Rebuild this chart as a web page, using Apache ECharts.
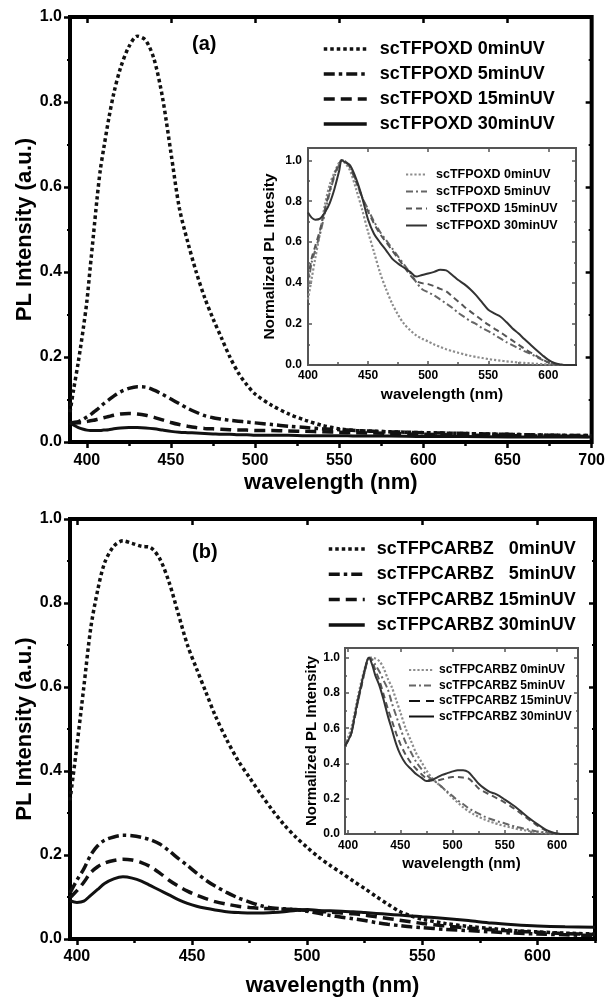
<!DOCTYPE html>
<html><head><meta charset="utf-8">
<script src="https://cdn.jsdelivr.net/npm/echarts@6/dist/echarts.min.js"></script>
<style>html,body{margin:0;padding:0;background:#fff}#c{width:608px;height:998px}</style>
</head><body><div id="c"></div><script>
// ---------- Panel (a) main: scTFPOXD PL intensity ----------
const wlA = [390,392,395,398,400,402,404,406,408,410,413,416,420,425,430,435,440,445,450,455,460,465,470,475,480,485,490,495,500,510,520,530,540,550,560,580,600,625,650,675,700];
const a0  = [0.07,0.12,0.19,0.27,0.33,0.41,0.49,0.57,0.64,0.69,0.76,0.82,0.88,0.93,0.955,0.945,0.90,0.81,0.68,0.55,0.47,0.40,0.34,0.29,0.245,0.20,0.163,0.135,0.113,0.086,0.066,0.051,0.039,0.031,0.027,0.024,0.022,0.02,0.018,0.016,0.015];
const a5  = [0.045,0.046,0.048,0.054,0.059,0.064,0.07,0.076,0.083,0.09,0.099,0.108,0.118,0.126,0.13,0.129,0.122,0.112,0.101,0.09,0.079,0.07,0.062,0.057,0.054,0.051,0.049,0.047,0.045,0.041,0.037,0.034,0.031,0.029,0.027,0.024,0.022,0.02,0.018,0.016,0.015];
const a15 = [0.045,0.044,0.045,0.047,0.048,0.05,0.051,0.053,0.055,0.057,0.06,0.063,0.066,0.067,0.066,0.063,0.058,0.052,0.046,0.041,0.037,0.034,0.032,0.031,0.03,0.029,0.028,0.028,0.027,0.027,0.026,0.025,0.024,0.023,0.022,0.02,0.018,0.016,0.015,0.014,0.013];
const a30 = [0.045,0.04,0.034,0.03,0.028,0.027,0.027,0.027,0.027,0.028,0.029,0.031,0.033,0.034,0.034,0.033,0.031,0.028,0.025,0.023,0.022,0.021,0.02,0.019,0.018,0.018,0.017,0.017,0.016,0.016,0.016,0.015,0.015,0.015,0.014,0.014,0.013,0.013,0.012,0.012,0.012];
// ---------- Panel (a) inset: normalized ----------
const wlAi = [400,403,406,410,414,418,422,426,428,431,435,440,445,450,455,460,465,470,475,480,485,490,495,500,505,510,515,520,525,530,535,540,545,550,555,560,565,570,575,580,585,590,595,600,605,610,615,620,624];
const ai0  = [0.32,0.42,0.52,0.645,0.78,0.88,0.94,0.99,1.0,0.985,0.95,0.86,0.76,0.65,0.55,0.45,0.37,0.3,0.245,0.2,0.17,0.145,0.128,0.115,0.1,0.088,0.077,0.068,0.06,0.052,0.045,0.039,0.034,0.029,0.025,0.021,0.018,0.015,0.012,0.01,0.008,0.006,0.004,0.003,0.002,0.001,0,0,0];
const ai5  = [0.38,0.5,0.56,0.64,0.74,0.84,0.92,0.98,1.0,0.995,0.97,0.9,0.82,0.76,0.7,0.65,0.61,0.57,0.53,0.49,0.45,0.405,0.37,0.355,0.34,0.32,0.3,0.28,0.255,0.235,0.215,0.2,0.18,0.165,0.148,0.13,0.112,0.097,0.082,0.068,0.055,0.04,0.025,0.012,0.004,0.001,0,0,0];
const ai15 = [0.42,0.52,0.58,0.66,0.76,0.85,0.93,0.985,1.0,0.995,0.965,0.895,0.82,0.75,0.69,0.64,0.6,0.56,0.52,0.48,0.44,0.41,0.4,0.395,0.385,0.372,0.36,0.335,0.31,0.285,0.262,0.24,0.218,0.197,0.178,0.16,0.14,0.12,0.1,0.08,0.062,0.045,0.028,0.013,0.005,0.001,0,0,0];
const ai30 = [0.745,0.72,0.71,0.715,0.745,0.79,0.86,0.95,1.0,0.99,0.975,0.91,0.82,0.71,0.64,0.598,0.56,0.52,0.495,0.475,0.455,0.432,0.44,0.447,0.455,0.465,0.462,0.44,0.415,0.395,0.37,0.34,0.305,0.27,0.252,0.237,0.21,0.18,0.155,0.127,0.1,0.073,0.048,0.025,0.01,0.003,0,0,0];
// ---------- Panel (b) main: scTFPCARBZ PL intensity ----------
const wlB = [397,400,403,406,409,412,416,420,424,428,432,436,440,444,448,452,456,460,465,470,475,480,485,490,495,500,505,510,515,520,525,530,535,540,545,550,560,570,580,590,600,612,625];
const b0  = [0.33,0.46,0.60,0.74,0.83,0.895,0.935,0.948,0.942,0.935,0.932,0.905,0.85,0.775,0.70,0.643,0.588,0.533,0.475,0.425,0.384,0.344,0.306,0.272,0.243,0.218,0.195,0.175,0.157,0.138,0.12,0.101,0.083,0.066,0.055,0.047,0.037,0.03,0.025,0.02,0.017,0.014,0.012];
const b5  = [0.11,0.14,0.167,0.2,0.222,0.235,0.243,0.247,0.246,0.242,0.236,0.226,0.21,0.192,0.175,0.157,0.14,0.126,0.111,0.098,0.088,0.079,0.074,0.072,0.07,0.066,0.061,0.056,0.052,0.048,0.044,0.039,0.035,0.032,0.029,0.027,0.023,0.02,0.017,0.014,0.012,0.01,0.008];
const b15 = [0.098,0.115,0.135,0.158,0.172,0.181,0.187,0.19,0.188,0.182,0.172,0.157,0.14,0.126,0.114,0.104,0.096,0.089,0.083,0.078,0.075,0.073,0.072,0.071,0.07,0.068,0.066,0.064,0.062,0.06,0.057,0.053,0.049,0.045,0.041,0.037,0.031,0.026,0.022,0.019,0.016,0.013,0.011];
const b30 = [0.091,0.087,0.09,0.104,0.118,0.132,0.143,0.148,0.145,0.138,0.127,0.116,0.105,0.094,0.085,0.078,0.073,0.069,0.065,0.063,0.062,0.062,0.063,0.065,0.068,0.07,0.068,0.067,0.066,0.065,0.063,0.061,0.059,0.057,0.055,0.053,0.049,0.044,0.038,0.034,0.031,0.029,0.028];
// ---------- Panel (b) inset: normalized ----------
const wlBi = [397,400,403,406,409,412,415,418,420,423,426,430,434,438,442,446,450,455,460,465,470,475,480,485,490,495,500,505,510,515,520,525,530,535,540,545,550,555,560,565,570,575,580,585,590,595,600,605,610,620];
const bi0  = [0.5,0.55,0.6,0.68,0.77,0.85,0.92,0.98,1.0,1.0,0.995,0.98,0.94,0.88,0.83,0.76,0.69,0.6,0.53,0.46,0.41,0.36,0.32,0.29,0.265,0.235,0.205,0.178,0.152,0.13,0.112,0.097,0.084,0.072,0.062,0.053,0.045,0.038,0.031,0.025,0.02,0.015,0.011,0.008,0.005,0.003,0.001,0,0,0];
const bi5  = [0.5,0.53,0.57,0.65,0.74,0.82,0.9,0.97,1.0,0.99,0.96,0.92,0.87,0.82,0.74,0.67,0.6,0.52,0.465,0.41,0.37,0.335,0.31,0.29,0.265,0.24,0.215,0.19,0.17,0.148,0.13,0.115,0.1,0.088,0.078,0.068,0.06,0.05,0.042,0.035,0.028,0.022,0.016,0.011,0.007,0.004,0.001,0,0,0];
const bi15 = [0.5,0.53,0.57,0.65,0.74,0.82,0.9,0.97,1.0,0.98,0.93,0.87,0.79,0.71,0.64,0.57,0.51,0.45,0.405,0.37,0.34,0.315,0.305,0.305,0.31,0.318,0.323,0.323,0.32,0.315,0.29,0.258,0.24,0.225,0.21,0.195,0.178,0.16,0.14,0.118,0.095,0.073,0.052,0.033,0.017,0.007,0.002,0,0,0];
const bi30 = [0.5,0.53,0.57,0.66,0.75,0.83,0.91,0.98,1.0,0.96,0.9,0.84,0.76,0.67,0.59,0.51,0.45,0.4,0.37,0.34,0.32,0.3,0.305,0.32,0.335,0.345,0.355,0.362,0.362,0.352,0.32,0.285,0.26,0.24,0.23,0.215,0.195,0.175,0.155,0.13,0.105,0.082,0.06,0.04,0.022,0.01,0.003,0,0,0];
// ---------- tick labels ----------
const xTicksA = [400,450,500,550,600,650,700];
const xMinorA = [425,475,525,575,625,675];
const xTicksAi = [400,450,500,550,600];
const xMinorAi = [425,475,525,575];
const xTicksB = [400,450,500,550,600];
const xMinorB = [425,475,525,575,625];
const xTicksBi = [400,450,500,550,600];
const xMinorBi = [425,475,525,575];
// ---------- names ----------
const namesA = ['scTFPOXD 0minUV','scTFPOXD 5minUV','scTFPOXD 15minUV','scTFPOXD 30minUV'];
const namesAi = ['scTFPOXD 0minUV ','scTFPOXD 5minUV ','scTFPOXD 15minUV ','scTFPOXD 30minUV '];
const namesB = ['scTFPCARBZ   0minUV','scTFPCARBZ   5minUV','scTFPCARBZ 15minUV','scTFPCARBZ 30minUV'];
const namesBi = ['scTFPCARBZ 0minUV','scTFPCARBZ 5minUV','scTFPCARBZ 15minUV','scTFPCARBZ 30minUV'];

const FONT = '"Liberation Sans", Arial, Helvetica, sans-serif';
const bold = {fontFamily: FONT, fontWeight: 'bold', color: '#000'};

const mainStyles = [
  {color:'#111', width:3.5, type:[3.5,3]},
  {color:'#111', width:3.5, type:[11,4,3.5,4]},
  {color:'#111', width:3.5, type:[11,6]},
  {color:'#111', width:3, type:'solid'}
];
const insStyles = [
  {color:'#8c8c8c', width:2.2, type:[2.2,2]},
  {color:'#666', width:2, type:[7,3,2,3]},
  {color:'#555', width:2, type:[6,4]},
  {color:'#333', width:2, type:'solid'}
];

function ser(name, xs, ys, xi, yi, st) {
  return {type:'line', name, data: xs.map((x,i)=>[x, ys[i]]), xAxisIndex: xi, yAxisIndex: yi,
    symbol:'none', showSymbol:false, smooth:0.3, color: st.color, lineStyle: st, silent:true, clip:true};
}

function xAx(g, min, max, pos, o) {
  return Object.assign({gridIndex:g, type:'value', min, max, position:pos,
    axisLine:{show:false, onZero:false}, splitLine:{show:false}}, o);
}
function yAx(g, max, pos, o) {
  return Object.assign({gridIndex:g, type:'value', min:0, max, interval:0.2, position:pos,
    axisLine:{show:false, onZero:false}, splitLine:{show:false}}, o);
}
const fmt = v => (Math.abs(v/0.2 - Math.round(v/0.2)) < 1e-6) ? v.toFixed(1) : '';

const grids = [
  {left:70, top:17, width:526, height:425, show:true, borderColor:'#000', borderWidth:4, backgroundColor:'transparent'},
  {left:308, top:148, width:268, height:217, show:true, borderColor:'#555', borderWidth:2, backgroundColor:'#fff'},
  {left:70, top:519, width:525, height:421, show:true, borderColor:'#000', borderWidth:4, backgroundColor:'transparent'},
  {left:345, top:648, width:233, height:186, show:true, borderColor:'#555', borderWidth:2, backgroundColor:'#fff'}
];

const mainTick = (vals, inside, len) => ({show:true, inside, length:len, lineStyle:{color:'#000', width:2.5}, customValues: vals});
const insTick = (vals, len) => ({show:true, inside:true, length:len, lineStyle:{color:'#555', width:1.5}, customValues: vals});

const xAxes = [
  // main a
  xAx(0, 390, 700, 'bottom', {axisTick: mainTick(xTicksA,false,6), axisLabel:Object.assign({customValues:xTicksA, fontSize:16, margin:11}, bold),
     name:'wavelength (nm)', nameLocation:'middle', nameGap:30, nameTextStyle:Object.assign({fontSize:22}, bold)}),
  xAx(0, 390, 700, 'bottom', {axisTick: mainTick(xMinorA,false,4), axisLabel:{show:false}}),
  xAx(0, 390, 700, 'top', {axisTick: mainTick(xTicksA,true,6), axisLabel:{show:false}}),
  // inset a
  xAx(1, 400, 623, 'bottom', {axisTick: insTick(xTicksAi,4), axisLabel:Object.assign({customValues:xTicksAi, fontSize:12, margin:5}, bold),
     name:'wavelength (nm)', nameLocation:'middle', nameGap:22, nameTextStyle:Object.assign({fontSize:15.5}, bold)}),
  xAx(1, 400, 623, 'bottom', {axisTick: insTick(xMinorAi,3), axisLabel:{show:false}}),
  xAx(1, 400, 623, 'top', {axisTick: insTick(xTicksAi,4), axisLabel:{show:false}}),
  // main b
  xAx(2, 397, 625, 'bottom', {axisTick: mainTick(xTicksB,false,6), axisLabel:Object.assign({customValues:xTicksB, fontSize:16, margin:10}, bold),
     name:'wavelength (nm)', nameLocation:'middle', nameGap:36, nameTextStyle:Object.assign({fontSize:22}, bold)}),
  xAx(2, 397, 625, 'bottom', {axisTick: mainTick(xMinorB,false,4), axisLabel:{show:false}}),
  xAx(2, 397, 625, 'top', {axisTick: mainTick(xTicksB,true,6), axisLabel:{show:false}}),
  // inset b
  xAx(3, 397, 620, 'bottom', {axisTick: insTick(xTicksBi,4), axisLabel:Object.assign({customValues:xTicksBi, fontSize:12, margin:6}, bold),
     name:'wavelength (nm)', nameLocation:'middle', nameGap:22, nameTextStyle:Object.assign({fontSize:15}, bold)}),
  xAx(3, 397, 620, 'bottom', {axisTick: insTick(xMinorBi,3), axisLabel:{show:false}}),
  xAx(3, 397, 620, 'top', {axisTick: insTick(xTicksBi,4), axisLabel:{show:false}})
];

const yAxes = [
  yAx(0, 1.0, 'left', {axisTick:{show:true, inside:false, length:6, lineStyle:{color:'#000', width:2.5}},
     minorTick:{show:true, splitNumber:2, length:3, lineStyle:{color:'#000', width:2}},
     axisLabel:Object.assign({fontSize:16, margin:8, formatter:fmt}, bold),
     name:'PL Intensity (a.u.)', nameLocation:'middle', nameGap:34, nameMoveOverlap:false, nameTextStyle:Object.assign({fontSize:22}, bold)}),
  yAx(0, 1.0, 'right', {axisTick:{show:true, inside:true, length:6, lineStyle:{color:'#000', width:2.5}},
     minorTick:{show:true, splitNumber:2, length:3, lineStyle:{color:'#000', width:2}}, axisLabel:{show:false}}),
  yAx(1, 1.06, 'left', {axisTick:{show:true, inside:true, length:4, lineStyle:{color:'#555', width:1.5}},
     minorTick:{show:true, splitNumber:2, length:2, lineStyle:{color:'#555', width:1.5}},
     axisLabel:Object.assign({fontSize:12, margin:6, formatter:fmt}, bold),
     name:'Normalized PL Intesity', nameLocation:'middle', nameGap:30, nameTextStyle:Object.assign({fontSize:15.5}, bold)}),
  yAx(1, 1.06, 'right', {axisTick:{show:true, inside:true, length:4, lineStyle:{color:'#555', width:1.5}},
     minorTick:{show:true, splitNumber:2, length:2, lineStyle:{color:'#555', width:1.5}}, axisLabel:{show:false}}),
  yAx(2, 1.0, 'left', {axisTick:{show:true, inside:false, length:6, lineStyle:{color:'#000', width:2.5}},
     minorTick:{show:true, splitNumber:2, length:3, lineStyle:{color:'#000', width:2}},
     axisLabel:Object.assign({fontSize:16, margin:8, formatter:fmt}, bold),
     name:'PL Intensity (a.u.)', nameLocation:'middle', nameGap:34, nameMoveOverlap:false, nameTextStyle:Object.assign({fontSize:22}, bold)}),
  yAx(2, 1.0, 'right', {axisTick:{show:true, inside:true, length:6, lineStyle:{color:'#000', width:2.5}},
     minorTick:{show:true, splitNumber:2, length:3, lineStyle:{color:'#000', width:2}}, axisLabel:{show:false}}),
  yAx(3, 1.055, 'left', {axisTick:{show:true, inside:true, length:4, lineStyle:{color:'#555', width:1.5}},
     minorTick:{show:true, splitNumber:2, length:2, lineStyle:{color:'#555', width:1.5}},
     axisLabel:Object.assign({fontSize:12, margin:5, formatter:fmt}, bold),
     name:'Normalized PL Intensity', nameLocation:'middle', nameGap:23, nameTextStyle:Object.assign({fontSize:15}, bold)}),
  yAx(3, 1.055, 'right', {axisTick:{show:true, inside:true, length:4, lineStyle:{color:'#555', width:1.5}},
     minorTick:{show:true, splitNumber:2, length:2, lineStyle:{color:'#555', width:1.5}}, axisLabel:{show:false}})
];

const series = [];
[a0,a5,a15,a30].forEach((d,i)=>series.push(ser(namesA[i], wlA, d, 0, 0, mainStyles[i])));
[ai0,ai5,ai15,ai30].forEach((d,i)=>series.push(ser(namesAi[i], wlAi, d, 3, 2, insStyles[i])));
[b0,b5,b15,b30].forEach((d,i)=>series.push(ser(namesB[i], wlB, d, 6, 4, mainStyles[i])));
[bi0,bi5,bi15,bi30].forEach((d,i)=>series.push(ser(namesBi[i], wlBi, d, 9, 6, insStyles[i])));

function leg(names, left, top, w, gap, fs, pad, lw) {
  return {data: names, orient:'vertical', left, top, itemWidth:w, itemHeight:12, itemGap:gap, selectedMode:false,
    lineStyle:{width:lw}, itemStyle:{opacity:0, color:'transparent', borderWidth:0}, padding:0,
    textStyle:Object.assign({fontSize:fs, lineHeight:fs, padding:[0,0,0,pad]}, bold)};
}

const option = {
  animation:false,
  backgroundColor:'#fff',
  grid: grids,
  xAxis: xAxes,
  yAxis: yAxes,
  legend: [
    leg(namesA, 322, 40, 43, 7, 18, 8, 3.5),
    leg(namesAi, 405, 168, 21, 4, 12.5, 4, 2),
    leg(namesB, 327, 540, 36, 7.3, 18, 7, 3.5),
    leg(namesBi, 408, 664, 25, 3.5, 12, 0, 2)
  ],
  title: [
    {text:'(a)', left:192, top:34, padding:0, textStyle:Object.assign({fontSize:20}, bold)},
    {text:'(b)', left:192, top:542, padding:0, textStyle:Object.assign({fontSize:20}, bold)}
  ],
  series
};
const chart = echarts.init(document.getElementById('c'), null, {renderer:'canvas'});
chart.setOption(option);
</script></body></html>
